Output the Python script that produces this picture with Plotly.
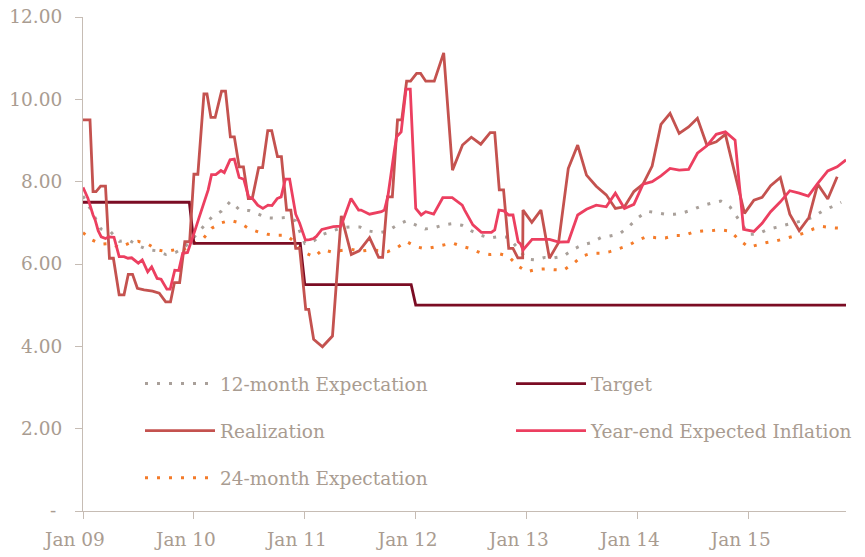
import pandas as pd
import plotly.graph_objects as go

# ---------------- data ----------------
months = pd.date_range("2009-01-01", periods=83, freq="MS")

exp12 = [7.65, 7.25, 6.85, 6.79, 6.55, 6.58, 6.45, 6.35, 6.32, 6.23, 6.28, 6.40,
         6.65, 6.90, 7.14, 7.28, 7.52, 7.31, 7.30, 7.21, 7.12, 7.11, 7.13, 7.05,
         6.50, 6.57, 6.72, 6.80, 6.88, 6.90, 6.90, 6.80, 6.76, 6.80, 6.95, 7.05,
         6.95, 6.85, 6.88, 6.95, 6.98, 6.94, 6.81, 6.70, 6.63, 6.67, 6.65, 6.40,
         6.12, 6.10, 6.16, 6.15, 6.19, 6.35, 6.46, 6.52, 6.64, 6.68, 6.73, 6.90,
         7.12, 7.28, 7.24, 7.21, 7.21, 7.25, 7.32, 7.42, 7.48, 7.53, 7.38, 7.05,
         6.72, 6.73, 6.83, 6.89, 6.94, 7.01, 7.06, 7.14, 7.29, 7.39, 7.50]

exp24 = [6.76, 6.58, 6.48, 6.50, 6.40, 6.50, 6.55, 6.49, 6.35, 6.30, 6.35, 6.36,
         6.50, 6.62, 6.87, 7.00, 7.06, 7.00, 6.86, 6.78, 6.72, 6.70, 6.70, 6.52,
         6.28, 6.17, 6.35, 6.29, 6.33, 6.36, 6.31, 6.34, 6.33, 6.30, 6.40, 6.55,
         6.42, 6.37, 6.41, 6.47, 6.51, 6.43, 6.37, 6.27, 6.23, 6.25, 6.19, 5.96,
         5.81, 5.87, 5.88, 5.86, 5.85, 6.00, 6.19, 6.26, 6.26, 6.30, 6.38, 6.45,
         6.58, 6.67, 6.64, 6.63, 6.69, 6.69, 6.77, 6.80, 6.81, 6.83, 6.80, 6.58,
         6.41, 6.47, 6.52, 6.56, 6.61, 6.68, 6.75, 6.85, 6.91, 6.88, 6.87]

target_dates = ["2009-01-01", "2009-12-17", "2010-01-01", "2010-12-17", "2011-01-01",
                "2011-12-17", "2012-01-01", "2015-11-17"]
target_vals = [7.5, 7.5, 6.5, 6.5, 5.5, 5.5, 5.0, 5.0]

real_dates = ["2009-01-01", "2009-01-24", "2009-02-03", "2009-02-13", "2009-02-28", "2009-03-16",
              "2009-03-29", "2009-04-11", "2009-04-30", "2009-05-16", "2009-05-30", "2009-06-13",
              "2009-06-29", "2009-07-21", "2009-08-18", "2009-09-09", "2009-09-30", "2009-10-16",
              "2009-10-29", "2009-11-15", "2009-12-02", "2009-12-18", "2010-01-01", "2010-01-14",
              "2010-02-03", "2010-02-13", "2010-02-26", "2010-03-12", "2010-04-02", "2010-04-15",
              "2010-05-01", "2010-05-14", "2010-05-30", "2010-06-13", "2010-06-29", "2010-07-12",
              "2010-08-02", "2010-08-15", "2010-09-01", "2010-09-14", "2010-10-03", "2010-10-16",
              "2010-11-02", "2010-11-16", "2010-12-02", "2010-12-15", "2011-01-04", "2011-01-14",
              "2011-01-30", "2011-02-28", "2011-04-02", "2011-05-01", "2011-06-03", "2011-06-29",
              "2011-08-02", "2011-09-01", "2011-09-14", "2011-09-30", "2011-10-16", "2011-11-02",
              "2011-11-16", "2011-12-02", "2011-12-15", "2012-01-04", "2012-01-17", "2012-02-03",
              "2012-03-02", "2012-04-02", "2012-05-01", "2012-06-03", "2012-07-02", "2012-08-02",
              "2012-09-02", "2012-09-17", "2012-10-02", "2012-10-16", "2012-11-02", "2012-11-16",
              "2012-12-02", "2012-12-18", "2012-12-19", "2013-01-17", "2013-02-16", "2013-03-16",
              "2013-04-15", "2013-05-17", "2013-06-17", "2013-07-16", "2013-08-17", "2013-09-19",
              "2013-10-19", "2013-11-18", "2013-12-19", "2014-01-18", "2014-02-17", "2014-03-18",
              "2014-04-17", "2014-05-17", "2014-06-17", "2014-07-16", "2014-08-16", "2014-09-16",
              "2014-10-16", "2014-12-18", "2015-01-18", "2015-02-14", "2015-03-14", "2015-04-15",
              "2015-05-16", "2015-06-16", "2015-07-18", "2015-08-16", "2015-09-18", "2015-10-19"]
real_vals = [9.50, 9.50, 7.76, 7.76, 7.89, 7.89,
             6.14, 6.14, 5.25, 5.25, 5.75, 5.75,
             5.41, 5.37, 5.34, 5.29, 5.08, 5.08,
             5.55, 5.55, 6.54, 6.54, 8.18, 8.18,
             10.13, 10.13, 9.56, 9.56, 10.20, 10.20,
             9.09, 9.09, 8.36, 8.36, 7.59, 7.59,
             8.34, 8.34, 9.24, 9.24, 8.61, 8.61,
             7.31, 7.31, 6.38, 6.38, 4.90, 4.90,
             4.17, 3.99, 4.25, 7.17, 6.23, 6.32,
             6.64, 6.16, 6.16, 7.63, 7.63, 9.50,
             9.50, 10.44, 10.44, 10.63, 10.63, 10.44,
             10.44, 11.13, 8.28, 8.89, 9.08, 8.91,
             9.19, 9.19, 7.80, 7.80, 6.38, 6.38,
             6.15, 6.15, 7.31, 7.01, 7.31, 6.14,
             6.52, 8.32, 8.89, 8.16, 7.89, 7.68,
             7.35, 7.39, 7.76, 7.94, 8.38, 9.39,
             9.66, 9.17, 9.33, 9.54, 8.89, 8.97,
             9.15, 7.23, 7.55, 7.62, 7.90, 8.10,
             7.21, 6.81, 7.13, 7.94, 7.58, 8.12]

ye_dates = ["2009-01-01", "2009-01-17", "2009-02-03", "2009-02-10", "2009-02-20", "2009-03-02",
            "2009-03-16", "2009-03-27", "2009-04-13", "2009-04-30", "2009-05-16", "2009-05-29",
            "2009-06-10", "2009-06-20", "2009-07-02", "2009-07-15", "2009-08-02", "2009-08-15",
            "2009-09-02", "2009-09-15", "2009-10-04", "2009-10-15", "2009-10-30", "2009-11-12",
            "2009-11-25", "2009-12-11", "2009-12-22", "2010-01-05", "2010-01-19", "2010-02-05",
            "2010-02-17", "2010-02-28", "2010-03-14", "2010-03-31", "2010-04-11", "2010-04-30",
            "2010-05-14", "2010-05-30", "2010-06-14", "2010-06-30", "2010-07-13", "2010-07-30",
            "2010-08-16", "2010-09-02", "2010-09-15", "2010-10-02", "2010-10-15", "2010-10-29",
            "2010-11-12", "2010-12-02", "2010-12-15", "2011-01-03", "2011-01-17", "2011-01-30",
            "2011-02-08", "2011-02-26", "2011-03-16", "2011-04-05", "2011-04-30", "2011-06-02",
            "2011-06-27", "2011-07-05", "2011-08-02", "2011-09-10", "2011-09-20", "2011-10-01",
            "2011-10-23", "2011-10-30", "2011-11-14", "2011-11-30", "2011-12-14", "2012-01-01",
            "2012-01-19", "2012-02-03", "2012-02-29", "2012-03-30", "2012-04-30", "2012-05-18",
            "2012-06-02", "2012-06-10", "2012-07-07", "2012-08-04", "2012-09-06", "2012-09-17",
            "2012-10-01", "2012-10-17", "2012-11-02", "2012-11-16", "2012-12-03", "2012-12-11",
            "2012-12-19", "2013-01-18", "2013-02-16", "2013-03-16", "2013-04-16", "2013-05-17",
            "2013-06-17", "2013-07-16", "2013-08-17", "2013-09-19", "2013-10-19", "2013-11-18",
            "2013-12-19", "2014-01-18", "2014-02-17", "2014-03-18", "2014-04-17", "2014-05-17",
            "2014-06-17", "2014-07-16", "2014-08-16", "2014-09-16", "2014-10-16", "2014-11-17",
            "2014-12-15", "2015-01-18", "2015-02-14", "2015-03-14", "2015-04-15", "2015-05-16",
            "2015-06-16", "2015-07-16", "2015-08-16", "2015-09-18", "2015-10-19", "2015-11-17"]
ye_vals = [7.86, 7.60, 7.19, 7.07, 6.81, 6.66,
           6.62, 6.66, 6.65, 6.18, 6.18, 6.14,
           6.15, 6.10, 6.02, 6.10, 5.81, 5.93,
           5.65, 5.63, 5.39, 5.39, 5.85, 5.84,
           6.26, 6.28, 6.50, 6.83, 7.15, 7.51,
           7.80, 8.17, 8.17, 8.27, 8.22, 8.53,
           8.55, 8.10, 8.06, 7.63, 7.59, 7.43,
           7.35, 7.43, 7.42, 7.59, 7.63, 8.06,
           8.06, 7.21, 6.99, 6.58, 6.59, 6.62,
           6.67, 6.84, 6.88, 6.91, 6.92, 7.59,
           7.31, 7.31, 7.21, 7.27, 7.31, 7.63,
           8.77, 9.09, 9.21, 10.25, 10.25, 7.35,
           7.19, 7.27, 7.21, 7.61, 7.61, 7.51,
           7.43, 7.31, 6.95, 6.77, 6.77, 6.83,
           7.31, 7.29, 7.19, 7.19, 6.54, 6.49,
           6.34, 6.60, 6.60, 6.60, 6.53, 6.54,
           7.19, 7.33, 7.43, 7.39, 7.72, 7.35,
           7.45, 7.94, 8.00, 8.14, 8.32, 8.28,
           8.30, 8.69, 8.87, 9.15, 9.21, 9.01,
           6.84, 6.79, 6.99, 7.27, 7.51, 7.78,
           7.72, 7.65, 7.96, 8.26, 8.36, 8.53]

y_ticks = [0, 2, 4, 6, 8, 10, 12]
y_tick_text = ["-\u00a0", "2.00", "4.00", "6.00", "8.00", "10.00", "12.00"]

# ---------------- style ----------------
TXT = "#a99c91"
AXIS = "#c6bcb4"
FONT = "DejaVu Serif"
FS = 18.5

fig = go.Figure()
fig.add_trace(go.Scatter(x=months, y=exp12, name="12-month Expectation", mode="lines",
                         line=dict(color="#a9a09a", width=3, dash="3px,9px"),
                         legend="legend", legendgroup="g1", legendrank=1))
fig.add_trace(go.Scatter(x=months, y=exp24, name="24-month Expectation", mode="lines",
                         line=dict(color="#f47b2a", width=3, dash="3px,9px"),
                         legend="legend", legendgroup="g3", legendrank=3))
fig.add_trace(go.Scatter(x=target_dates, y=target_vals, name="Target", mode="lines",
                         line=dict(color="#7b0c24", width=2.8),
                         legend="legend2", legendgroup="g4", legendrank=1))
fig.add_trace(go.Scatter(x=real_dates, y=real_vals, name="Realization", mode="lines",
                         line=dict(color="#c4524f", width=2.8),
                         legend="legend", legendgroup="g2", legendrank=2))
fig.add_trace(go.Scatter(x=ye_dates, y=ye_vals, name="Year-end Expected Inflation", mode="lines",
                         line=dict(color="#ec3f60", width=2.8),
                         legend="legend2", legendgroup="g5", legendrank=2))

legend_common = dict(font=dict(family=FONT, size=FS, color=TXT), bgcolor="rgba(0,0,0,0)",
                     orientation="v", tracegroupgap=20, itemwidth=70,
                     xref="paper", yref="paper", xanchor="left", yanchor="top",
                     traceorder="grouped")

fig.update_layout(
    width=857, height=549,
    margin=dict(l=75, r=19, t=9, b=46, autoexpand=False),
    paper_bgcolor="white", plot_bgcolor="white",
    font=dict(family=FONT, size=FS, color=TXT),
    showlegend=True,
    legend=dict(x=(140 - 83) / 763, y=(511 - 365) / 494, **legend_common),
    legend2=dict(x=(511 - 83) / 763, y=(511 - 365) / 494, **legend_common),
    xaxis=dict(type="date", range=["2009-01-01", "2015-11-17"],
               tick0="2009-01-01", dtick="M12", tickformat="%b %y",
               showgrid=False, zeroline=False, showline=True, linecolor=AXIS, linewidth=1.2,
               ticks="outside", ticklen=7, tickcolor=AXIS, tickwidth=1.2,
               ticklabelshift=-8, ticklabelstandoff=5, ticklabeloverflow="allow",
               tickfont=dict(family=FONT, size=FS, color=TXT)),
    yaxis=dict(range=[0, 12], tickvals=y_ticks, ticktext=y_tick_text,
               showgrid=False, zeroline=False, showline=True, linecolor=AXIS, linewidth=1.2,
               ticks="outside", ticklen=7, tickcolor=AXIS, tickwidth=1.2,
               ticklabelstandoff=9, ticklabeloverflow="allow",
               tickfont=dict(family=FONT, size=FS, color=TXT)),
)

fig.write_html("out.html")
